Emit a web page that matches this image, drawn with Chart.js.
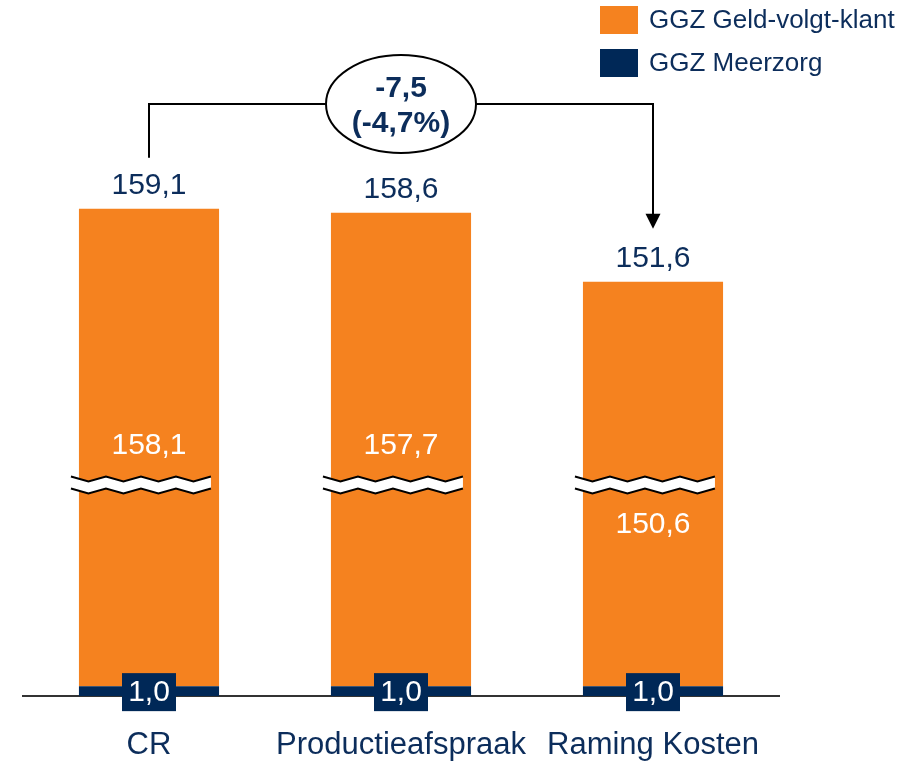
<!DOCTYPE html>
<html>
<head>
<meta charset="utf-8">
<script src="https://cdn.jsdelivr.net/npm/chart.js@4"></script>
<style>
    body { margin: 0; background: #fff; }
    #chart-wrap { width: 910px; height: 762px; }
</style>
</head>
<body>
<div id="chart-wrap"><canvas id="cost-chart" width="910" height="762"></canvas></div>
<script>
const categories = ['CR', 'Productieafspraak', 'Raming Kosten'];
const meerzorg = [1.0, 1.0, 1.0];
const geldVolgtKlant = [158.1, 157.7, 150.6];
const totals = [159.1, 158.6, 151.6];

// part of the axis hidden behind the break marks
const AXIS_BREAK = 109;
const BREAK_AT = 21.7;
const Y_MAX = 65.4;

const ORANGE = '#F5821F';
const NAVY = '#002857';
const TEXT_NAVY = '#0C2D5B';
const FONT = '"Liberation Sans", Arial, sans-serif';

// where the white label inside the orange bar goes (relative to the break)
const innerBelowBreak = [false, false, true];

function fmt(v) {
    return v.toFixed(1).replace('.', ',');
}

function zigzag(x1, x2, y) {
    const step = 17.5;
    const amp = 2.5;
    const pts = [];
    let up = true;
    for (let x = x1; x <= x2 + 0.1; x += step) {
        pts.push([x, y + (up ? -amp : amp)]);
        up = !up;
    }
    return pts;
}

function tracePath(ctx, pts) {
    pts.forEach((p, k) => k === 0 ? ctx.moveTo(p[0], p[1]) : ctx.lineTo(p[0], p[1]));
}

const overlayPlugin = {
    id: 'overlay',
    afterDatasetsDraw(chart) {
        const ctx = chart.ctx;
        const yScale = chart.scales.y;
        const navyBars = chart.getDatasetMeta(0).data;
        const orangeBars = chart.getDatasetMeta(1).data;
        const breakY = yScale.getPixelForValue(BREAK_AT);

        ctx.save();
        orangeBars.forEach((bar, i) => {
            const half = bar.width / 2;
            const x1 = bar.x - half - 8;
            const x2 = bar.x + half + 7;
            const top = zigzag(x1, x2, breakY - 6);
            const bottom = zigzag(x1, x2, breakY + 6);

            // white gap of the axis break
            ctx.beginPath();
            tracePath(ctx, top);
            for (let k = bottom.length - 1; k >= 0; k--) ctx.lineTo(bottom[k][0], bottom[k][1]);
            ctx.closePath();
            ctx.fillStyle = '#fff';
            ctx.fill();

            ctx.strokeStyle = '#000';
            ctx.lineWidth = 2;
            [top, bottom].forEach(line => {
                ctx.beginPath();
                tracePath(ctx, line);
                ctx.stroke();
            });

            ctx.textAlign = 'center';
            ctx.textBaseline = 'middle';
            ctx.font = '30px ' + FONT;
            ctx.fillStyle = '#fff';
            const innerY = innerBelowBreak[i] ? breakY + 40 : breakY - 39;
            ctx.fillText(fmt(geldVolgtKlant[i]), bar.x, innerY);

            ctx.fillStyle = TEXT_NAVY;
            ctx.fillText(fmt(totals[i]), bar.x, bar.y - 23);
        });

        // meerzorg value boxes
        navyBars.forEach((bar, i) => {
            const cy = (bar.y + bar.base) / 2 + 1;
            ctx.fillStyle = NAVY;
            ctx.fillRect(bar.x - 27, cy - 19, 54, 38);
            ctx.fillStyle = '#fff';
            ctx.font = '30px ' + FONT;
            ctx.fillText(fmt(meerzorg[i]), bar.x, cy + 1);
        });

        // difference bracket
        const first = orangeBars[0];
        const mid = orangeBars[1];
        const last = orangeBars[orangeBars.length - 1];
        const lineY = 104;
        const rx = 75, ry = 49;
        ctx.strokeStyle = '#000';
        ctx.lineWidth = 2;
        ctx.beginPath();
        ctx.moveTo(first.x, first.y - 51);
        ctx.lineTo(first.x, lineY);
        ctx.lineTo(mid.x - rx, lineY);
        ctx.moveTo(mid.x + rx, lineY);
        ctx.lineTo(last.x, lineY);
        ctx.lineTo(last.x, last.y - 66);
        ctx.stroke();
        ctx.fillStyle = '#000';
        ctx.beginPath();
        ctx.moveTo(last.x - 7.5, last.y - 68);
        ctx.lineTo(last.x + 7.5, last.y - 68);
        ctx.lineTo(last.x, last.y - 53);
        ctx.closePath();
        ctx.fill();

        ctx.beginPath();
        ctx.ellipse(mid.x, lineY, rx, ry, 0, 0, Math.PI * 2);
        ctx.fillStyle = '#fff';
        ctx.fill();
        ctx.stroke();

        const diff = totals[totals.length - 1] - totals[0];
        const pct = diff / totals[0] * 100;
        ctx.fillStyle = TEXT_NAVY;
        ctx.font = 'bold 30px ' + FONT;
        ctx.fillText(fmt(diff), mid.x, 89);
        ctx.fillText('(' + fmt(pct) + '%)', mid.x, 124);

        // legend
        const items = [chart.data.datasets[1], chart.data.datasets[0]];
        items.forEach((ds, k) => {
            const y = 6 + k * 43;
            ctx.fillStyle = ds.backgroundColor;
            ctx.fillRect(600, y, 38, 28);
            ctx.fillStyle = TEXT_NAVY;
            ctx.font = '26px ' + FONT;
            ctx.textAlign = 'left';
            ctx.fillText(ds.label, 649, y + 15);
        });
        ctx.restore();
    }
};

function drawChart() {
    const ctx = document.getElementById('cost-chart').getContext('2d');
    new Chart(ctx, {
        type: 'bar',
        data: {
            labels: categories,
            datasets: [
                {
                    label: 'GGZ Meerzorg',
                    data: meerzorg,
                    backgroundColor: NAVY,
                },
                {
                    label: 'GGZ Geld-volgt-klant',
                    data: geldVolgtKlant.map(v => v - AXIS_BREAK),
                    backgroundColor: ORANGE,
                },
            ],
        },
        options: {
            responsive: false,
            animation: false,
            layout: {
                padding: { top: 60, left: 23, right: 131, bottom: 0 },
            },
            datasets: {
                bar: { categoryPercentage: 1, barPercentage: 0.556 },
            },
            plugins: {
                legend: { display: false },
                tooltip: { enabled: false },
            },
            scales: {
                x: {
                    stacked: true,
                    grid: { display: false, drawTicks: false },
                    border: { display: true, color: '#333', width: 2 },
                    afterFit: scale => { scale.height = 66; },
                    ticks: {
                        color: TEXT_NAVY,
                        padding: 31,
                        maxRotation: 0,
                        minRotation: 0,
                        autoSkip: false,
                        font: { size: 31, family: FONT },
                    },
                },
                y: {
                    stacked: true,
                    display: false,
                    min: 0,
                    max: Y_MAX,
                },
            },
        },
        plugins: [overlayPlugin],
    });
}

window.onload = () => {
    drawChart();
};
</script>
</body>
</html>
